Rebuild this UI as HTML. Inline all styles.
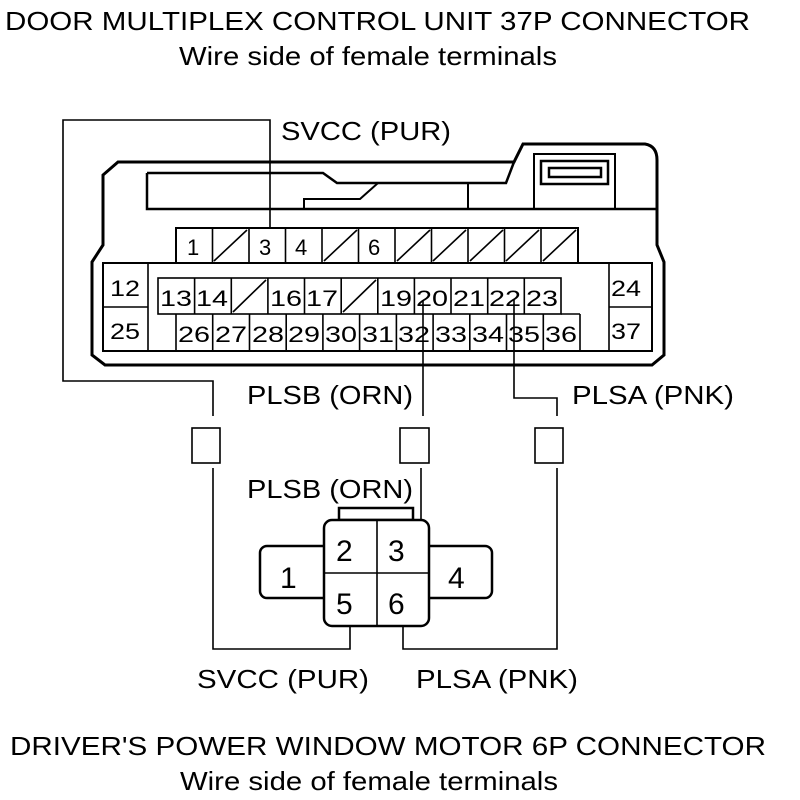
<!DOCTYPE html>
<html><head><style>
html,body{margin:0;padding:0;background:#fff;}
svg{display:block;}
text{font-family:"Liberation Sans",sans-serif;fill:#000;}
</style></head><body>
<svg width="800" height="800" viewBox="0 0 800 800" xmlns="http://www.w3.org/2000/svg">
<g font-size="26">
<text x="5" y="30" textLength="745" lengthAdjust="spacingAndGlyphs">DOOR MULTIPLEX CONTROL UNIT 37P CONNECTOR</text>
<text x="179" y="65" textLength="378" lengthAdjust="spacingAndGlyphs">Wire side of female terminals</text>
<text x="281" y="140" textLength="170" lengthAdjust="spacingAndGlyphs">SVCC (PUR)</text>
<text x="247" y="404" textLength="166" lengthAdjust="spacingAndGlyphs">PLSB (ORN)</text>
<text x="572" y="404" textLength="162" lengthAdjust="spacingAndGlyphs">PLSA (PNK)</text>
<text x="247" y="498" textLength="166" lengthAdjust="spacingAndGlyphs">PLSB (ORN)</text>
<text x="197" y="688" textLength="172" lengthAdjust="spacingAndGlyphs">SVCC (PUR)</text>
<text x="416" y="688" textLength="162" lengthAdjust="spacingAndGlyphs">PLSA (PNK)</text>
<text x="10" y="755" textLength="756" lengthAdjust="spacingAndGlyphs">DRIVER'S POWER WINDOW MOTOR 6P CONNECTOR</text>
<text x="180" y="790" textLength="378" lengthAdjust="spacingAndGlyphs">Wire side of female terminals</text>
</g>
<g fill="none" stroke="#000">
<path d="M118,162 L514,162 L523,144 L645,144 Q657,146 657,160 L657,245 L664,262 L664,355 L652,365 L105,365 L92,355 L92,262 L103,245 L103,175 Z" stroke-width="3"/>
<path d="M147,173 L323,173 L337,183 L506,183 L514,162" stroke-width="2.5"/>
<path d="M147,173 L147,209 L657,209" stroke-width="2.5"/>
<line x1="468" y1="183" x2="468" y2="209" stroke-width="2"/>
<path d="M304,209 L304,199 L360,199 L378,183" stroke-width="2"/>
<rect x="534" y="154" width="81" height="55" stroke-width="2"/>
<rect x="541" y="161" width="67" height="23" stroke-width="2.5"/>
<rect x="549" y="168" width="52" height="9" stroke-width="2.5"/>
<rect x="176" y="228" width="402" height="35" stroke-width="2"/>
<g stroke-width="1.6">
<line x1="212.5" y1="228" x2="212.5" y2="263"/><line x1="249" y1="228" x2="249" y2="263"/>
<line x1="285.5" y1="228" x2="285.5" y2="263"/><line x1="322" y1="228" x2="322" y2="263"/>
<line x1="358.5" y1="228" x2="358.5" y2="263"/><line x1="395" y1="228" x2="395" y2="263"/>
<line x1="431.5" y1="228" x2="431.5" y2="263"/><line x1="468" y1="228" x2="468" y2="263"/>
<line x1="504.5" y1="228" x2="504.5" y2="263"/><line x1="541" y1="228" x2="541" y2="263"/>
<line x1="214" y1="261" x2="247" y2="230"/><line x1="324" y1="261" x2="357" y2="230"/>
<line x1="397" y1="261" x2="430" y2="230"/><line x1="433" y1="261" x2="466" y2="230"/>
<line x1="470" y1="261" x2="503" y2="230"/><line x1="506" y1="261" x2="539" y2="230"/>
<line x1="543" y1="261" x2="576" y2="230"/>
</g>
<rect x="103" y="263" width="549" height="88" stroke-width="2"/>
<line x1="148" y1="263" x2="148" y2="351" stroke-width="1.6"/>
<line x1="103" y1="307" x2="148" y2="307" stroke-width="1.6"/>
<line x1="609" y1="263" x2="609" y2="351" stroke-width="1.6"/>
<line x1="609" y1="307" x2="652" y2="307" stroke-width="1.6"/>
<rect x="158" y="278" width="403" height="36" stroke-width="1.6"/>
<g stroke-width="1.6">
<line x1="194.6" y1="278" x2="194.6" y2="314"/><line x1="231.3" y1="278" x2="231.3" y2="314"/>
<line x1="267.9" y1="278" x2="267.9" y2="314"/><line x1="304.5" y1="278" x2="304.5" y2="314"/>
<line x1="341.2" y1="278" x2="341.2" y2="314"/><line x1="377.8" y1="278" x2="377.8" y2="314"/>
<line x1="414.4" y1="278" x2="414.4" y2="314"/><line x1="451" y1="278" x2="451" y2="314"/>
<line x1="487.7" y1="278" x2="487.7" y2="314"/><line x1="524.3" y1="278" x2="524.3" y2="314"/>
<line x1="233" y1="312" x2="266" y2="280"/><line x1="343" y1="312" x2="376" y2="280"/>
</g>
<path d="M176,314 L176,351 M580,314 L580,351 M561,314 L580,314" stroke-width="1.6"/>
<g stroke-width="1.6">
<line x1="212.7" y1="314" x2="212.7" y2="351"/><line x1="249.5" y1="314" x2="249.5" y2="351"/>
<line x1="286.2" y1="314" x2="286.2" y2="351"/><line x1="322.9" y1="314" x2="322.9" y2="351"/>
<line x1="359.6" y1="314" x2="359.6" y2="351"/><line x1="396.4" y1="314" x2="396.4" y2="351"/>
<line x1="433.1" y1="314" x2="433.1" y2="351"/><line x1="469.8" y1="314" x2="469.8" y2="351"/>
<line x1="506.5" y1="314" x2="506.5" y2="351"/><line x1="543.3" y1="314" x2="543.3" y2="351"/>
</g>
<g stroke-width="1.6">
<path d="M270,228 L270,120 L63,120 L63,381 L213,381 L213,416"/>
<path d="M423,300 L423,416"/>
<path d="M514,300 L514,398 L557,398 L557,416"/>
<rect x="192" y="428" width="28" height="35"/>
<rect x="400" y="428" width="29" height="35"/>
<rect x="535" y="428" width="28" height="35"/>
<path d="M213,468 L213,649 L350,649 L350,626"/>
<path d="M421,468 L421,522"/>
<path d="M557,468 L557,649 L403,649 L403,626"/>
</g>
<g stroke-width="2.5">
<rect x="339" y="508" width="74" height="12"/>
<rect x="260" y="546" width="72" height="52" rx="7"/>
<rect x="421" y="546" width="71" height="52" rx="7"/>
<rect x="324" y="520" width="105" height="106" rx="8" fill="#fff"/>
</g>
<line x1="377" y1="520" x2="377" y2="626" stroke-width="1.6"/>
<line x1="324" y1="573" x2="429" y2="573" stroke-width="1.6"/>
</g>
<g font-size="22">
<text x="187" y="255">1</text><text x="259" y="255">3</text><text x="295" y="255">4</text><text x="368" y="255">6</text>
<text x="110" y="296" textLength="30" lengthAdjust="spacingAndGlyphs">12</text><text x="110" y="339" textLength="30" lengthAdjust="spacingAndGlyphs">25</text>
<text x="611" y="296" textLength="30" lengthAdjust="spacingAndGlyphs">24</text><text x="611" y="339" textLength="30" lengthAdjust="spacingAndGlyphs">37</text>
<text x="160" y="306" textLength="32" lengthAdjust="spacingAndGlyphs">13</text>
<text x="196" y="306" textLength="32" lengthAdjust="spacingAndGlyphs">14</text>
<text x="270" y="306" textLength="32" lengthAdjust="spacingAndGlyphs">16</text>
<text x="306" y="306" textLength="32" lengthAdjust="spacingAndGlyphs">17</text>
<text x="380" y="306" textLength="32" lengthAdjust="spacingAndGlyphs">19</text>
<text x="416" y="306" textLength="32" lengthAdjust="spacingAndGlyphs">20</text>
<text x="453" y="306" textLength="32" lengthAdjust="spacingAndGlyphs">21</text>
<text x="489" y="306" textLength="32" lengthAdjust="spacingAndGlyphs">22</text>
<text x="526" y="306" textLength="32" lengthAdjust="spacingAndGlyphs">23</text>
<text x="178" y="342" textLength="32" lengthAdjust="spacingAndGlyphs">26</text>
<text x="215" y="342" textLength="32" lengthAdjust="spacingAndGlyphs">27</text>
<text x="252" y="342" textLength="32" lengthAdjust="spacingAndGlyphs">28</text>
<text x="288" y="342" textLength="32" lengthAdjust="spacingAndGlyphs">29</text>
<text x="325" y="342" textLength="32" lengthAdjust="spacingAndGlyphs">30</text>
<text x="362" y="342" textLength="32" lengthAdjust="spacingAndGlyphs">31</text>
<text x="398" y="342" textLength="32" lengthAdjust="spacingAndGlyphs">32</text>
<text x="435" y="342" textLength="32" lengthAdjust="spacingAndGlyphs">33</text>
<text x="472" y="342" textLength="32" lengthAdjust="spacingAndGlyphs">34</text>
<text x="508" y="342" textLength="32" lengthAdjust="spacingAndGlyphs">35</text>
<text x="545" y="342" textLength="32" lengthAdjust="spacingAndGlyphs">36</text>
</g>
<g font-size="30">
<text x="336" y="561">2</text><text x="388" y="561">3</text>
<text x="336" y="614">5</text><text x="388" y="614">6</text>
<text x="280" y="588">1</text><text x="448" y="588">4</text>
</g>
</svg>
</body></html>
